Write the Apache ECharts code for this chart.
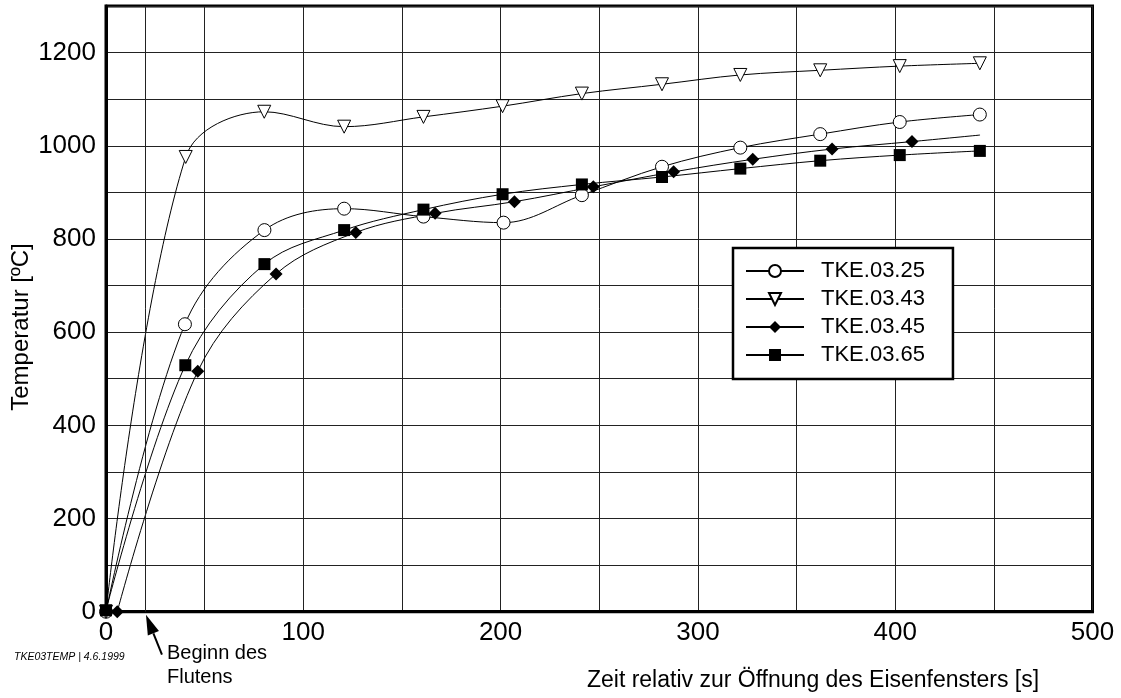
<!DOCTYPE html>
<html>
<head>
<meta charset="utf-8">
<script src="https://cdn.jsdelivr.net/npm/echarts@6/dist/echarts.min.js"></script>
<style>
  html, body { margin: 0; padding: 0; background: #fff; }
  #chart { width: 1121px; height: 698px; }
</style>
</head>
<body>
<div id="chart"></div>
<script>
// ---- Data ----
const seriesNames = ['TKE.03.25', 'TKE.03.43', 'TKE.03.45', 'TKE.03.65'];

const time25 = [0, 40, 80.3, 120.7, 160.9, 201.5, 241.2, 281.8, 321.5, 362, 402.3, 442.9];
const temp25 = [0, 617, 819, 865, 848, 835, 894, 955, 996, 1025, 1051, 1067];

const time43 = [0, 40.4, 80.2, 120.7, 160.9, 201, 241.2, 281.8, 321.5, 362, 402.3, 442.9];
const temp43 = [0, 976, 1073, 1041, 1062, 1085, 1112, 1132, 1152, 1162, 1171, 1177];

const time45 = [5.7, 46.5, 86.2, 126.6, 166.8, 207, 247, 287.7, 327.8, 368, 408.5, 443];
const temp45 = [0, 516, 725, 814, 855, 880, 912, 944, 971, 993, 1009, 1023];
const lastPointMarked45 = false; // the final TKE.03.45 point has no marker

const time65 = [0, 40.2, 80.3, 120.7, 160.9, 201, 241.2, 281.8, 321.5, 362, 402.3, 442.9];
const temp65 = [3, 529, 746, 819, 863, 896, 917, 933, 951, 968, 980, 989];

const floodStart = 20; // "Beginn des Flutens"

const xTickLabels = [0, 100, 200, 300, 400, 500];
const yTickLabels = [0, 200, 400, 600, 800, 1000, 1200];

// ---- Chart ----
const FONT = '"Liberation Sans", Arial, Helvetica, sans-serif';
const chart = echarts.init(document.getElementById('chart'), null, { renderer: 'canvas' });

function pairs(xs, ys) { return xs.map((x, i) => [x, ys[i]]); }

const data45 = pairs(time45, temp45).map((p, i, arr) =>
  (i === arr.length - 1 && !lastPointMarked45) ? { value: p, symbol: 'none' } : p);

const lineBase = {
  type: 'line',
  smooth: 0.35,
  showAllSymbol: true,
  symbolSize: 12,
  lineStyle: { color: '#000', width: 1 },
  emphasis: { disabled: true },
  animation: false,
  z: 3
};

const option = {
  animation: false,
  backgroundColor: '#fff',
  textStyle: { fontFamily: FONT },
  grid: {
    left: 106, right: 28.5, top: 6, bottom: 86.3,
    show: true, borderColor: '#000', borderWidth: 3, backgroundColor: 'transparent'
  },
  xAxis: {
    type: 'value', min: 0, max: 500, interval: 50,
    axisLine: { show: true, onZero: false, lineStyle: { color: '#000', width: 3 } },
    axisTick: { show: false },
    splitLine: { show: true, lineStyle: { color: '#222', width: 1 } },
    axisLabel: {
      color: '#000', fontSize: 26, fontFamily: FONT, margin: 8,
      formatter: v => xTickLabels.includes(v) ? String(v) : ''
    }
  },
  yAxis: {
    type: 'value', min: 0, max: 1300, interval: 100,
    axisLine: { show: true, onZero: false, lineStyle: { color: '#000', width: 3 } },
    axisTick: { show: false },
    splitLine: { show: true, lineStyle: { color: '#222', width: 1 } },
    axisLabel: {
      color: '#000', fontSize: 26, fontFamily: FONT, margin: 10,
      formatter: v => yTickLabels.includes(v) ? String(v) : ''
    }
  },
  legend: {
    data: seriesNames,
    orient: 'vertical',
    left: 733, top: 248,
    padding: [12, 28, 13, 12],
    itemWidth: 58, itemHeight: 15, itemGap: 6,
    selectedMode: false,
    backgroundColor: '#fff',
    borderColor: '#000', borderWidth: 2.5, borderRadius: 0,
    textStyle: { color: '#000', fontSize: 22, lineHeight: 22, fontFamily: FONT, padding: [0, 0, 0, 12] }
  },
  series: [
    Object.assign({}, lineBase, {
      name: seriesNames[0],
      symbol: 'circle', symbolSize: 13,
      itemStyle: { color: '#fff', borderColor: '#000', borderWidth: 1 },
      data: pairs(time25, temp25),
      markLine: {
        silent: true, symbol: ['none', 'none'], animation: false,
        label: { show: false },
        lineStyle: { color: '#222', width: 1, type: 'solid' },
        emphasis: { disabled: true },
        data: [{ xAxis: floodStart }]
      }
    }),
    Object.assign({}, lineBase, {
      name: seriesNames[1],
      symbol: 'triangle', symbolRotate: 180, symbolSize: 13,
      itemStyle: { color: '#fff', borderColor: '#000', borderWidth: 1 },
      data: pairs(time43, temp43)
    }),
    Object.assign({}, lineBase, {
      name: seriesNames[2],
      symbol: 'diamond', symbolSize: 13,
      itemStyle: { color: '#000', borderColor: '#000', borderWidth: 0 },
      data: data45
    }),
    Object.assign({}, lineBase, {
      name: seriesNames[3],
      symbol: 'rect', symbolSize: 12,
      itemStyle: { color: '#000', borderColor: '#000', borderWidth: 0 },
      data: pairs(time65, temp65)
    })
  ]
};

chart.setOption(option);

// ---- Annotations (titles, arrow, footnote) ----
const tip = chart.convertToPixel({ xAxisIndex: 0, yAxisIndex: 0 }, [floodStart, 0]);
const tipX = tip[0] + 0.5, tipY = tip[1] + 3;
const tailX = tipX + 16, tailY = tipY + 40;
const ang = Math.atan2(tipY - tailY, tipX - tailX);
const headLen = 20, headHalf = 6;
const bx = tipX - headLen * Math.cos(ang), by = tipY - headLen * Math.sin(ang);
const nx = -Math.sin(ang), ny = Math.cos(ang);

chart.setOption({
  graphic: [
    {
      type: 'text', rotation: Math.PI / 2, x: 21, y: 327,
      style: { text: 'Temperatur [ºC]', fontSize: 24, fontFamily: FONT, fill: '#000',
               align: 'center', verticalAlign: 'middle' },
      silent: true
    },
    {
      type: 'text', x: 813, y: 681,
      style: { text: 'Zeit relativ zur Öffnung des Eisenfensters [s]', fontSize: 23, fontFamily: FONT,
               fill: '#000', align: 'center', verticalAlign: 'middle' },
      silent: true
    },
    {
      type: 'text', x: 167, y: 641,
      style: { text: 'Beginn des\nFlutens', fontSize: 20, lineHeight: 24, fontFamily: FONT,
               fill: '#000', align: 'left', verticalAlign: 'top' },
      silent: true
    },
    {
      type: 'text', x: 14, y: 657,
      style: { text: 'TKE03TEMP | 4.6.1999', fontSize: 10.5, fontStyle: 'italic', fontFamily: FONT,
               fill: '#000', align: 'left', verticalAlign: 'middle' },
      silent: true
    },
    {
      type: 'line', silent: true, z: 10,
      shape: { x1: tailX, y1: tailY, x2: bx, y2: by },
      style: { stroke: '#000', lineWidth: 2 }
    },
    {
      type: 'polygon', silent: true, z: 10,
      shape: { points: [[tipX, tipY], [bx + nx * headHalf, by + ny * headHalf], [bx - nx * headHalf, by - ny * headHalf]] },
      style: { fill: '#000' }
    }
  ]
});
</script>
</body>
</html>
